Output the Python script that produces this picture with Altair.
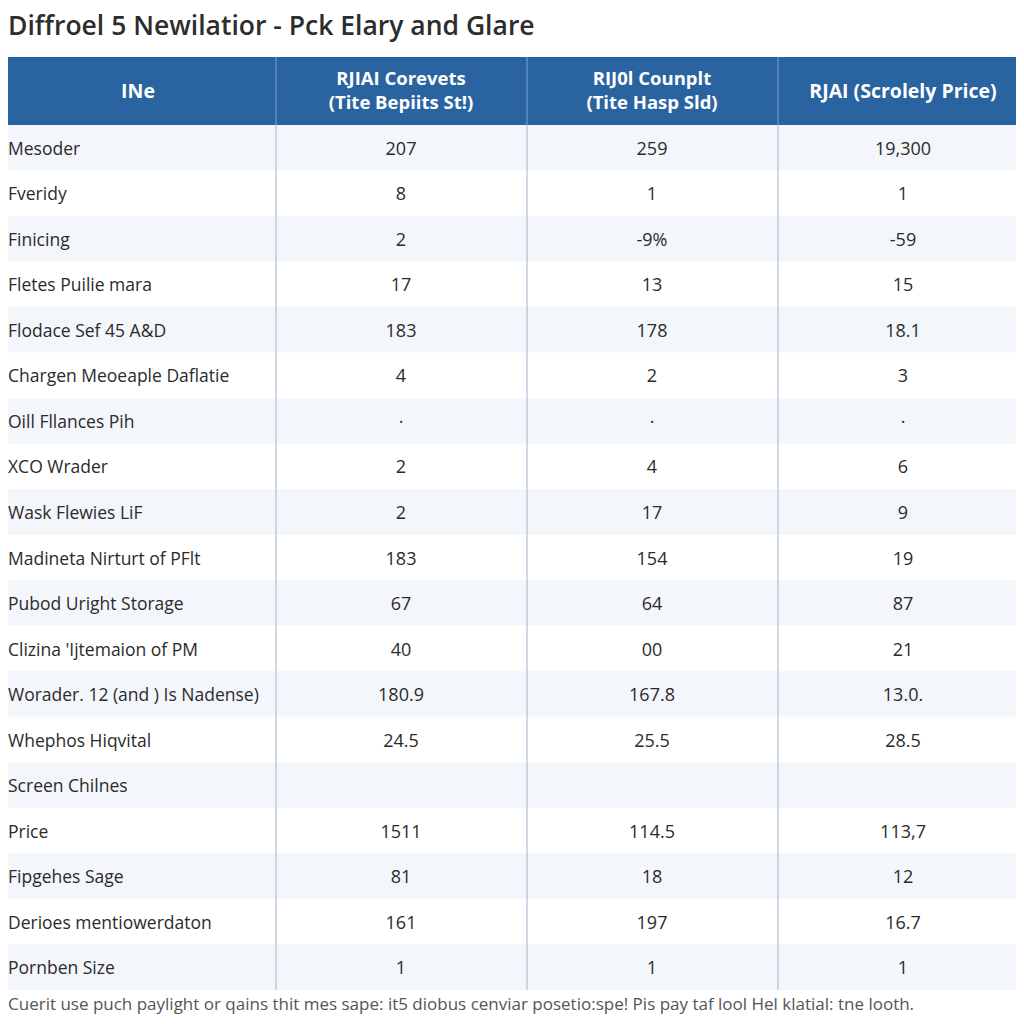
import altair as alt
import pandas as pd

# ---------------- data ----------------
title_text = "Diffroel 5 Newilatior - Pck Elary and Glare"
footer_text = ("Cuerit use puch paylight or qains thit mes sape: it5 diobus cenviar "
               "posetio:spe! Pis pay taf lool Hel klatial: tne looth.")

header_first = "INe"
header_labels = [
    "RJIAI Corevets\n(Tite Bepiits St!)",
    "RIJ0l Counplt\n(Tite Hasp Sld)",
    "RJAI (Scrolely Price)",
]
header_lines = [2, 2, 1]

row_labels = [
    "Mesoder", "Fveridy", "Finicing", "Fletes Puilie mara", "Flodace Sef 45 A&D",
    "Chargen Meoeaple Daflatie", "Oill Fllances Pih", "XCO Wrader", "Wask Flewies LiF",
    "Madineta Nirturt of PFlt", "Pubod Uright Storage", "Clizina 'Ijtemaion of PM",
    "Worader. 12 (and ) Is Nadense)", "Whephos Hiqvital", "Screen Chilnes", "Price",
    "Fipgehes Sage", "Derioes mentiowerdaton", "Pornben Size",
]
col1_values = ["207", "8", "2", "17", "183", "4", "\u00b7", "2", "2", "183", "67", "40",
               "180.9", "24.5", "", "1511", "81", "161", "1"]
col2_values = ["259", "1", "-9%", "13", "178", "2", "\u00b7", "4", "17", "154", "64", "00",
               "167.8", "25.5", "", "114.5", "18", "197", "1"]
col3_values = ["19,300", "1", "-59", "15", "18.1", "3", "\u00b7", "6", "9", "19", "87", "21",
               "13.0.", "28.5", "", "113,7", "12", "16.7", "1"]

# ---------------- tables ----------------
rows_df = pd.DataFrame({
    "row": row_labels,
    "stripe": [i % 2 for i in range(len(row_labels))],
})
cells = []
for ci, vals in zip([1, 2, 3], [col1_values, col2_values, col3_values]):
    for r, v in zip(row_labels, vals):
        cells.append({"row": r, "ci": ci, "val": v})
cells_df = pd.DataFrame(cells)
header_df = pd.DataFrame({"ci": [1, 2, 3], "head": header_labels, "lines": header_lines})
first_df = pd.DataFrame({"head": [header_first]})
title_df = pd.DataFrame({"t": [title_text]})
footer_df = pd.DataFrame({"t": [footer_text]})

# ---------------- layout / style ----------------
W, H = 1008, 1008
FONT = "Open Sans"
HEADER_BLUE = "#2a64a0"
STRIPE = "#f3f6fa"
TXT = "#2b2b2b"

y_scale = alt.Scale(domain=row_labels, range=[117, 982], paddingInner=0, paddingOuter=0)
x_scale = alt.Scale(domain=[1, 3], range=[393, 895])
Y = alt.Y("row:N", scale=y_scale, axis=None)
X = alt.X("ci:Q", scale=x_scale, axis=None)

stripes = alt.Chart(rows_df).mark_rect().encode(
    x=alt.value(0), x2=alt.value(W), y=Y,
    color=alt.Color("stripe:N", scale=alt.Scale(domain=[0, 1], range=[STRIPE, "#ffffff"]), legend=None),
)

header_bg = alt.Chart(title_df).mark_rect(color=HEADER_BLUE).encode(
    x=alt.value(0), x2=alt.value(W), y=alt.value(49), y2=alt.value(117)
)

sep_x = [268, 519, 770]
body_seps = [
    alt.Chart(title_df).mark_rule(color="#aec3d6", strokeWidth=1.2).encode(
        x=alt.value(sx), y=alt.value(117), y2=alt.value(982))
    for sx in sep_x
]
head_seps = [
    alt.Chart(title_df).mark_rule(color="#6a9bcd", strokeWidth=1.2).encode(
        x=alt.value(sx), y=alt.value(49), y2=alt.value(117))
    for sx in sep_x
]

head_style = dict(font=FONT, fontSize=18.5, fontWeight="bold", color="white",
                  align="center", baseline="middle", lineBreak="\n", lineHeight=24)
header_two = alt.Chart(header_df).transform_filter("datum.lines == 2").mark_text(**head_style).encode(
    x=X, y=alt.value(71), text="head:N"
)
header_one = alt.Chart(header_df).transform_filter("datum.lines == 1").mark_text(
    **dict(head_style, fontSize=19.5)).encode(
    x=X, y=alt.value(84), text="head:N"
)
first_head = alt.Chart(first_df).mark_text(**dict(head_style, fontSize=19.5)).encode(
    x=alt.value(130), y=alt.value(84), text="head:N"
)

label_text = alt.Chart(rows_df).mark_text(
    font=FONT, fontSize=17.5, color=TXT, align="left", baseline="middle", dy=2,
).encode(x=alt.value(0), y=Y, text="row:N")

value_text = alt.Chart(cells_df).mark_text(
    font=FONT, fontSize=18, color=TXT, align="center", baseline="middle", dy=2,
).encode(x=X, y=Y, text="val:N")

title = alt.Chart(title_df).mark_text(
    font=FONT, fontSize=26.5, fontWeight=600, color="#2d2d2d", align="left", baseline="alphabetic",
).encode(x=alt.value(0), y=alt.value(27), text="t:N")

footer = alt.Chart(footer_df).mark_text(
    font=FONT, fontSize=17, color="#555555", align="left", baseline="middle",
).encode(x=alt.value(0), y=alt.value(997), text="t:N")

chart = alt.layer(
    stripes, header_bg, *body_seps, *head_seps, header_two, header_one, first_head,
    label_text, value_text, title, footer
).properties(
    width=W, height=H, padding=0, autosize=alt.AutoSizeParams(type="none")
).configure_view(stroke=None)

chart.save("out.html", embed_options={"renderer": "svg", "actions": False})
